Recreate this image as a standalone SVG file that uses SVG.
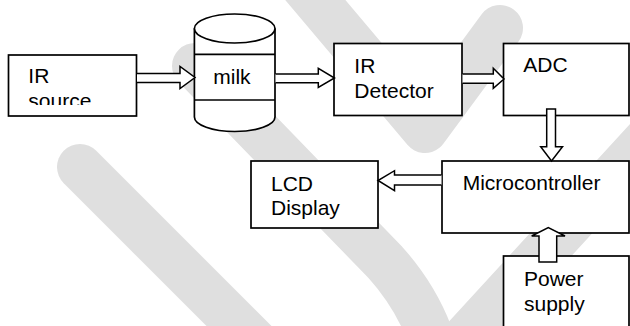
<svg xmlns="http://www.w3.org/2000/svg" width="630" height="326" viewBox="0 0 630 326">
  <defs>
    <style>
      .wm { fill: none; stroke: #dfdfdf; stroke-width: 46; stroke-linecap: round; stroke-linejoin: round; }
      .box { fill: #ffffff; stroke: #000000; stroke-width: 1.7; }
      .ln { stroke: #000000; stroke-width: 1.7; }
      .arr { fill: #ffffff; stroke: #000000; stroke-width: 1.5; stroke-linejoin: miter; }
      .t { font-family: "Liberation Sans", Arial, sans-serif; font-size: 21px; fill: #000000; }
    </style>
    <clipPath id="clipSrc"><rect x="9" y="56" width="127" height="49"/></clipPath>
  </defs>
  <rect width="630" height="326" fill="#ffffff"/>

  <g id="watermark">
    <path class="wm" d="M80,167 L262,349"/>
    <path class="wm" d="M195,66 L385,262 Q428,310 440,370"/>
    <path class="wm" d="M720,60 L465,338"/>
    <path class="wm" d="M290,-30 L425,130 L500,28"/>
  </g>

  <g id="ir-source">
    <rect class="box" x="8.5" y="55" width="128" height="61"/>
    <g clip-path="url(#clipSrc)">
      <text class="t" x="28.3" y="83.3">IR</text>
      <text class="t" x="28.3" y="107.6">source</text>
    </g>
  </g>

  <g id="milk">
    <path class="box" d="M194.4,28.5 V117 A40.3,14.5 0 0 0 275,117 V28.5"/>
    <ellipse class="box" cx="234.7" cy="28.5" rx="40.3" ry="14.5"/>
    <line class="ln" x1="194.4" y1="54.3" x2="275" y2="54.3"/>
    <line class="ln" x1="194.4" y1="100" x2="275" y2="100"/>
    <text class="t" x="213.3" y="84">milk</text>
  </g>

  <g id="ir-detector">
    <rect class="box" x="334" y="43.5" width="128" height="72"/>
    <text class="t" x="354.3" y="73.3">IR</text>
    <text class="t" x="354.3" y="97.7">Detector</text>
  </g>

  <g id="adc">
    <rect class="box" x="503.5" y="43.5" width="125.5" height="72"/>
    <text class="t" x="523.3" y="72.3">ADC</text>
  </g>

  <g id="lcd">
    <rect class="box" x="251" y="161" width="127" height="67"/>
    <text class="t" x="271" y="191">LCD</text>
    <text class="t" x="271" y="215">Display</text>
  </g>

  <g id="microcontroller">
    <rect class="box" x="442" y="161" width="187" height="72"/>
    <text class="t" x="462.7" y="190">Microcontroller</text>
  </g>

  <g id="power-supply">
    <rect class="box" x="503.5" y="256" width="125.5" height="80"/>
    <text class="t" x="524" y="285.5">Power</text>
    <text class="t" x="524" y="310.5">supply</text>
  </g>

  <g id="connectors">
    <path class="arr" d="M137,73.5 H180 V66.5 L195,77.5 L180,88.5 V82.5 H137"/>
    <path class="arr" d="M275.5,74 H318.3 V68.3 L334.5,78 L318.3,87.5 V82.7 H275.5"/>
    <path class="arr" d="M462.5,74 H493.3 V68.3 L504,79 L493.3,88.3 V83.3 H462.5"/>
    <path class="arr" d="M546.7,109 H555.5 V146.7 H562.5 L551.5,161 L540.7,146.7 H546.7 Z"/>
    <path class="arr" d="M441.5,175 H394.5 V170.7 L378,180.5 L394.5,190.7 V185 H441.5"/>
    <path class="arr" d="M539,262 V236 H531.7 L548.3,227.5 L565,236 H556.7 V262 Z"/>
  </g>
</svg>
